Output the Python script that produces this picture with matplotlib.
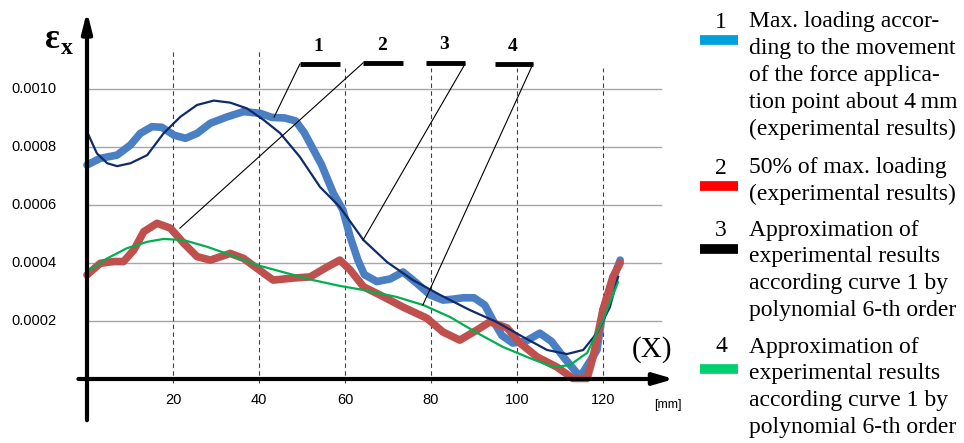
import matplotlib
matplotlib.use("Agg")
import matplotlib.pyplot as plt
from matplotlib.lines import Line2D

W, H = 964, 443

# curve 1: max. loading (experimental), eps_x in 1e-4
X1 = [0, 3.1, 7, 10.1, 12.4, 15.1, 17.4, 20.2, 22.9, 25.6, 28.7, 32.6, 36.4, 40.3,
      43, 46, 48.5, 50.5, 52.5, 54.5, 57.3, 59.5, 61.2, 63, 64.5, 67.4, 70.5, 73.5,
      76.7, 79.8, 82.8, 85, 87.5, 90, 92.5, 94.5, 96.5, 99, 102, 105.3, 108, 110.8,
      114.7, 118.6, 120, 122, 124]
Y1 = [7.38, 7.61, 7.72, 8.07, 8.47, 8.70, 8.68, 8.41, 8.30, 8.47, 8.82, 9.04, 9.22, 9.16,
      9.02, 9.0, 8.9, 8.5, 7.95, 7.4, 6.4, 5.83, 4.9, 4.1, 3.6, 3.36, 3.45, 3.69,
      3.3, 2.9, 2.72, 2.75, 2.8, 2.8, 2.55, 2.0, 1.5, 1.24, 1.3, 1.58, 1.3, 0.76,
      0.07, 1.0, 2.38, 3.3, 4.1]

# curve 2: 50% of max. loading (experimental)
X2 = [0, 3.1, 6.2, 8.5, 10.9, 13.2, 16.3, 19.4, 22.5, 25.6, 28.7, 33.3, 36.4, 39.5,
      43.3, 47.9, 51.9, 55.8, 58.8, 61.2, 64.3, 68.1, 73.5, 79, 82.8, 86.7, 90.7,
      93.7, 97.7, 100.7, 104.7, 109.3, 113, 116.3, 117.7, 120, 122.3, 124]
Y2 = [3.59, 3.99, 4.05, 4.05, 4.45, 5.08, 5.37, 5.2, 4.68, 4.22, 4.10, 4.33, 4.16, 3.82,
      3.41, 3.48, 3.52, 3.86, 4.1, 3.76, 3.18, 2.9, 2.48, 2.1, 1.62, 1.34, 1.69,
      1.97, 1.76, 1.24, 0.76, 0.41, 0.02, 0.02, 0.76, 2.38, 3.52, 4.0]

# curve 3: polynomial approximation of curve 1
X3 = [0, 2.3, 4.7, 7, 10.1, 14, 17.8, 21.7, 25.6, 29.5, 33.3, 37.2, 41.1, 44.9, 49.5,
      54.2, 58.8, 64.3, 69.8, 75.8, 82.1, 89, 95.2, 101.4, 107, 111.6, 115.4, 118.6,
      121.6, 123.5]
Y3 = [8.53, 7.78, 7.44, 7.34, 7.44, 7.72, 8.47, 9.04, 9.45, 9.60, 9.53, 9.33, 8.93,
      8.48, 7.66, 6.62, 5.93, 4.79, 4.03, 3.41, 2.9, 2.38, 1.97, 1.45, 1.0, 0.86, 1.0,
      1.59, 2.48, 3.52]

# curve 4: polynomial approximation
X4 = [0, 4.7, 9.3, 14, 17.8, 22.5, 27.9, 33.3, 39.5, 46.5, 52.6, 58.8, 64.3, 72,
      78.2, 84.4, 90.7, 96.8, 103, 108.4, 112.3, 116.3, 120, 123.5]
Y4 = [3.70, 4.16, 4.51, 4.73, 4.83, 4.79, 4.56, 4.28, 3.93, 3.65, 3.41, 3.21, 3.07,
      2.83, 2.55, 2.14, 1.59, 1.10, 0.72, 0.41, 0.48, 0.90, 2.03, 3.34]

Y_TICKS = [0.0002, 0.0004, 0.0006, 0.0008, 0.0010]
Y_LABELS = ["0.0002", "0.0004", "0.0006", "0.0008", "0.0010"]
X_TICKS = [20, 40, 60, 80, 100, 120]

LEGEND = [
    ("1", "#00a0d8", ["Max. loading accor-", "ding to the movement",
                      "of the force applica-", "tion point about 4\u2009mm",
                      "(experimental results)"]),
    ("2", "#ff0000", ["50% of max. loading", "(experimental results)"]),
    ("3", "#000000", ["Approximation of", "experimental results",
                      "according curve 1 by", "polynomial 6-th order"]),
    ("4", "#00d070", ["Approximation of", "experimental results",
                      "according curve 1 by", "polynomial 6-th order"]),
]

SERIF = ["Liberation Serif", "DejaVu Serif"]
SANS = ["Liberation Sans", "DejaVu Sans"]


def e4(v):
    return [y * 1e-4 for y in v]


def fx(px):
    return px / W


def fy(py):
    return 1 - py / H


fig = plt.figure(figsize=(W / 100, H / 100), dpi=100)
# x = 0 at px 87, 4.3 px / mm ; y = 0 at px 379, 58 px / 0.0002
xmin, xmax = -2, 138
ymin, ymax = -0.00015, 0.00128
px_mm = 4.3
py_unit = 58 / 0.0002
left = 87 + xmin * px_mm
right = 87 + xmax * px_mm
top = 379 - ymax * py_unit
bottom = 379 - ymin * py_unit
ax = fig.add_axes([fx(left), fy(bottom), (right - left) / W, (bottom - top) / H])
ax.set_xlim(xmin, xmax)
ax.set_ylim(ymin, ymax)
ax.axis("off")

# grid
for y in Y_TICKS:
    ax.plot([0, 133.5], [y, y], color="#a6a6a6", lw=1.0, zorder=1)
for x in X_TICKS:
    ytop = 0.001138 if x <= 40 else 0.001072
    ax.plot([x, x], [-0.000014, ytop], color="#404040", lw=0.8,
            ls=(0, (4, 3)), zorder=1)

# curves
ax.plot(X1, e4(Y1), color="#4a7fc4", lw=5.5, solid_capstyle="round",
        solid_joinstyle="round", zorder=3)
ax.plot(X2, e4(Y2), color="#c0504d", lw=5.5, solid_capstyle="round",
        solid_joinstyle="round", zorder=3)
ax.plot(X3, e4(Y3), color="#102a6c", lw=1.6, zorder=4)
ax.plot(X4, e4(Y4), color="#00b04f", lw=1.6, zorder=4)

# axes with arrows
ax.annotate("", xy=(136.5, 0), xytext=(-2, 0),
            arrowprops=dict(arrowstyle="-|>,head_length=1.2,head_width=0.35",
                            color="black", lw=3, shrinkA=0, shrinkB=0), zorder=5)
ax.annotate("", xy=(0, 0.001268), xytext=(0, -0.000142),
            arrowprops=dict(arrowstyle="-|>,head_length=1.2,head_width=0.3",
                            color="black", lw=3, shrinkA=0, shrinkB=0), zorder=5)

# tick labels
for y, lab in zip(Y_TICKS, Y_LABELS):
    ax.text(-7, y, lab, ha="right", va="center", fontsize=10.5, family=SANS)
for x in X_TICKS:
    ax.text(x, -0.000072, str(x), ha="center", va="center", fontsize=10.5, family=SANS)
ax.text(135, -0.00009, "[mm]", ha="center", va="center", fontsize=9, family=SANS)

# axis names
ax.text(-8.1, 0.00117, "\u03b5", ha="center", va="center", fontsize=25,
        fontweight="bold", family=SERIF)
ax.text(-4.6, 0.00114, "x", ha="center", va="center", fontsize=17,
        fontweight="bold", family=SERIF)
ax.text(131.4, 0.0001, "(X)", ha="center", va="center", fontsize=21, family=SERIF)

# leader labels
bars = [(49.5, 58.8, 0.001086), (64.2, 73.5, 0.00109), (78.8, 87.9, 0.00109),
        (94.9, 103.7, 0.001086)]
nums = [(53.7, 0.001145), (68.6, 0.00115), (83, 0.001152), (99, 0.001145)]
leads = [((49.5, 0.001086), (43.5, 0.000903)),
         ((64.2, 0.00109), (21.6, 0.00052)),
         ((87.9, 0.001086), (64.2, 0.000479)),
         ((103.7, 0.001086), (78.1, 0.000255))]
for i in range(4):
    x0, x1, yb = bars[i]
    ax.plot([x0, x1], [yb, yb], color="black", lw=3.5, solid_capstyle="butt", zorder=6)
    ax.text(nums[i][0], nums[i][1], str(i + 1), ha="center", va="center",
            fontsize=14, fontweight="bold", family=SERIF)
    (a, b), (c, d) = leads[i]
    ax.plot([a, c], [b, d], color="black", lw=0.8, zorder=6)

# legend on the right
starts = [22, 168, 230, 347]
swatch_y = [40, 186, 249, 369]
step = 26.8
for (num, col, lines), y0, sy in zip(LEGEND, starts, swatch_y):
    fig.text(fx(721), fy(y0), num, ha="center", va="center", fontsize=17, family=SERIF)
    fig.add_artist(Line2D([fx(700), fx(738)], [fy(sy), fy(sy)], color=col, lw=7,
                          solid_capstyle="butt", transform=fig.transFigure))
    for k, line in enumerate(lines):
        fig.text(fx(749), fy(y0 + k * step), line, ha="left", va="center",
                 fontsize=17, family=SERIF)

fig.savefig("out.png", dpi=100)
